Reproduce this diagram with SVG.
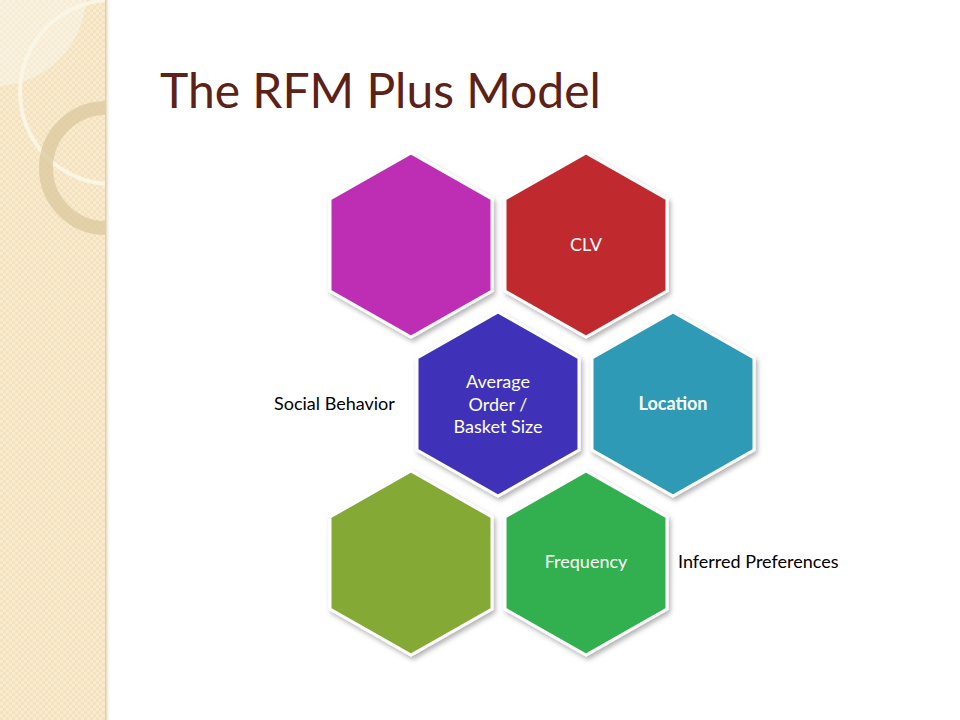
<svg xmlns="http://www.w3.org/2000/svg" width="960" height="720" viewBox="0 0 960 720">
<defs>
<pattern id="chk" width="6" height="6" patternUnits="userSpaceOnUse"><rect width="6" height="6" fill="#F3E2BC"/><rect width="3" height="3" fill="#F8EBCF"/><rect x="3" y="3" width="3" height="3" fill="#F8EBCF"/></pattern>
<clipPath id="strip"><rect width="105" height="720"/></clipPath>
<linearGradient id="edge" x1="0" x2="1"><stop offset="0" stop-color="#d8c8a0"/><stop offset="1" stop-color="#fff" stop-opacity="0"/></linearGradient>
<filter id="sh" x="-10%" y="-10%" width="130%" height="130%"><feDropShadow dx="2" dy="3" stdDeviation="2.5" flood-color="#000" flood-opacity="0.3"/></filter>
</defs>
<style>
.hex{stroke:#fff;stroke-width:3;filter:url(#sh)}
.w{font-family:Lato,"Open Sans",sans-serif;font-size:18px;fill:#fff;text-anchor:middle}
.k{font-family:Lato,"Open Sans",sans-serif;font-size:18px;fill:#000}
</style>
<rect width="960" height="720" fill="#fff"/>
<g id="strip-bg" clip-path="url(#strip)">
<rect width="105" height="720" fill="url(#chk)"/>
<path d="M0 0 H86 A92 92 0 0 1 0 86 Z" fill="#fff" opacity="0.35"/>
<circle cx="112" cy="92" r="92" fill="none" stroke="#FBF5E6" stroke-width="4"/>
<circle cx="106" cy="168" r="60" fill="none" stroke="#D9C69A" stroke-width="14" opacity="0.7"/>
</g>
<rect x="105" y="0" width="6" height="720" fill="url(#edge)"/>
<text x="160" y="108" font-family="Lato,'Open Sans',sans-serif" font-size="48" fill="#5C2117">The RFM Plus Model</text>
<g id="n1"><polygon class="hex" fill="#BE2FB5" points="411,153 492,199 492,291 411,337 330,291 330,199"/></g>
<g id="n2"><polygon class="hex" fill="#C0292E" points="586,153 667,199 667,291 586,337 505,291 505,199"/><text class="w" x="586" y="251">CLV</text></g>
<g id="n3"><polygon class="hex" fill="#4030B8" points="498,312 579,358 579,450 498,496 417,450 417,358"/><text class="w" x="498" y="388">Average</text><text class="w" x="498" y="411">Order /</text><text class="w" x="498" y="433">Basket Size</text></g>
<g id="n4"><polygon class="hex" fill="#2F9AB5" points="673,312 754,358 754,450 673,496 592,450 592,358"/><text class="w" x="673" y="410" font-weight="bold">Location</text></g>
<g id="n5"><polygon class="hex" fill="#84A936" points="411,471 492,517 492,609 411,655 330,609 330,517"/></g>
<g id="n6"><polygon class="hex" fill="#33B050" points="586,471 667,517 667,609 586,655 505,609 505,517"/><text class="w" x="586" y="568">Frequency</text></g>
<g id="labels"><text class="k" x="274" y="410">Social Behavior</text><text class="k" x="678" y="568">Inferred Preferences</text></g>
<g id="connectors"/>
</svg>
